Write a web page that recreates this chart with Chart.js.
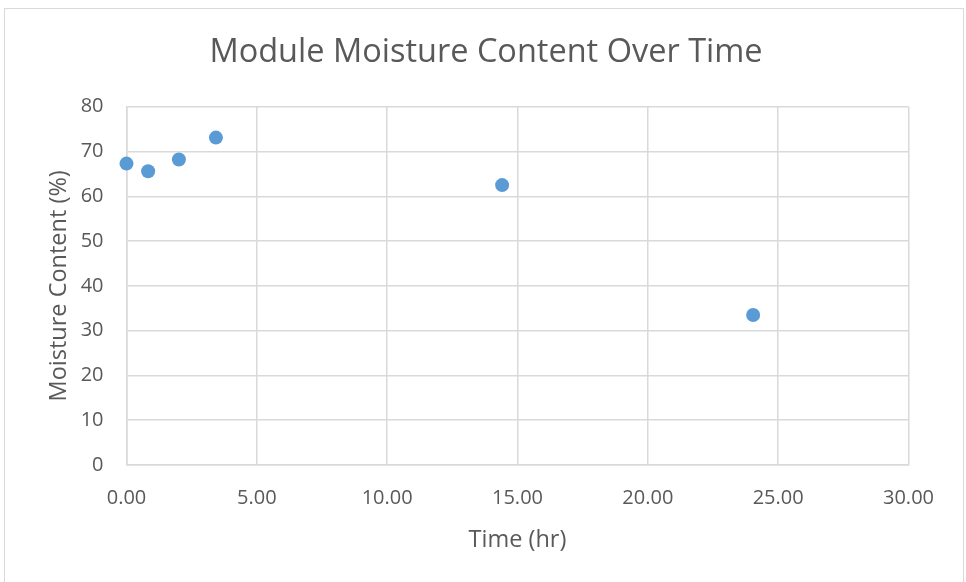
<!DOCTYPE html>
<html>
<head>
<meta charset="utf-8">
<script src="https://cdn.jsdelivr.net/npm/chart.js@4.4.0/dist/chart.umd.min.js"></script>
<style>
  html, body { margin: 0; padding: 0; background: #fff; }
  #wrap { position: relative; width: 966px; height: 582px; overflow: hidden; }
  #frame {
    position: absolute; left: 4px; top: 8px; width: 960px; height: 600px;
    border: 1px solid #D9D9D9; box-sizing: border-box;
  }
  canvas { position: absolute; left: 0; top: 0; }
</style>
</head>
<body>
<div id="wrap">
  <div id="frame"></div>
  <canvas id="moistureChart" width="966" height="582"></canvas>
</div>
<script>
// Sampled moisture content of the module over time
const timeHours = [0.0, 0.83, 2.01, 3.43, 14.41, 24.04];
const moisturePct = [67.3, 65.6, 68.2, 73.1, 62.5, 33.5];
const xTicks = [0, 5, 10, 15, 20, 25, 30];
const yTicks = [0, 10, 20, 30, 40, 50, 60, 70, 80];

const TEXT = "#595959";
const GRID = "#D9D9D9";
const FONT = "'Open Sans', 'DejaVu Sans', sans-serif";

const points = timeHours.map((t, i) => ({ x: t, y: moisturePct[i] }));

new Chart(document.getElementById("moistureChart"), {
    type: "scatter",
    data: {
        datasets: [{
            label: "Moisture Content",
            data: points,
            backgroundColor: "#5B9BD5",
            borderColor: "#5B9BD5",
            borderWidth: 0,
            pointRadius: 7,
            pointHoverRadius: 7,
            clip: false,
        }]
    },
    options: {
        responsive: false,
        animation: false,
        events: [],
        layout: { padding: { left: 6, right: 0, top: 0, bottom: 0 } },
        plugins: {
            legend: { display: false },
            tooltip: { enabled: false },
            title: {
                display: true,
                text: "Module Moisture Content Over Time",
                color: TEXT,
                font: { family: FONT, size: 32.5, weight: "normal", lineHeight: 1.2 },
                padding: { top: 33, bottom: 34.7 },
            },
        },
        scales: {
            x: {
                type: "linear",
                min: 0,
                max: 30,
                afterBuildTicks: (axis) => { axis.ticks = xTicks.map(v => ({ value: v })); },
                afterFit: (axis) => { axis.height = 117; },
                ticks: {
                    color: TEXT,
                    font: { family: FONT, size: 20 },
                    padding: 21,
                    callback: (v) => v.toFixed(2),
                },
                grid: { color: GRID, lineWidth: 1.5, drawTicks: false },
                border: { color: GRID, width: 1.5 },
                title: {
                    display: true,
                    text: "Time (hr)",
                    color: TEXT,
                    font: { family: FONT, size: 23.5, lineHeight: 1.2 },
                    padding: { top: 0, bottom: 27.9 },
                },
            },
            y: {
                type: "linear",
                min: 0,
                max: 80,
                afterBuildTicks: (axis) => { axis.ticks = yTicks.map(v => ({ value: v })); },
                afterFit: (axis) => { axis.width = 120.5; },
                ticks: {
                    color: TEXT,
                    font: { family: FONT, size: 20 },
                    padding: 23,
                },
                grid: { color: GRID, lineWidth: 1.5, drawTicks: false },
                border: { color: GRID, width: 1.5 },
                title: {
                    display: true,
                    text: "Moisture Content (%)",
                    color: TEXT,
                    font: { family: FONT, size: 23.5, lineHeight: 1.2 },
                    padding: { top: 38.9, bottom: 0 },
                },
            },
            // empty right-hand axis that only reserves the right margin
            spacer: {
                type: "linear",
                position: "right",
                display: true,
                afterFit: (axis) => { axis.width = 57.5; },
                ticks: { display: false },
                grid: { display: false, drawTicks: false },
                border: { display: false },
            },
        },
    },
});
</script>
</body>
</html>
